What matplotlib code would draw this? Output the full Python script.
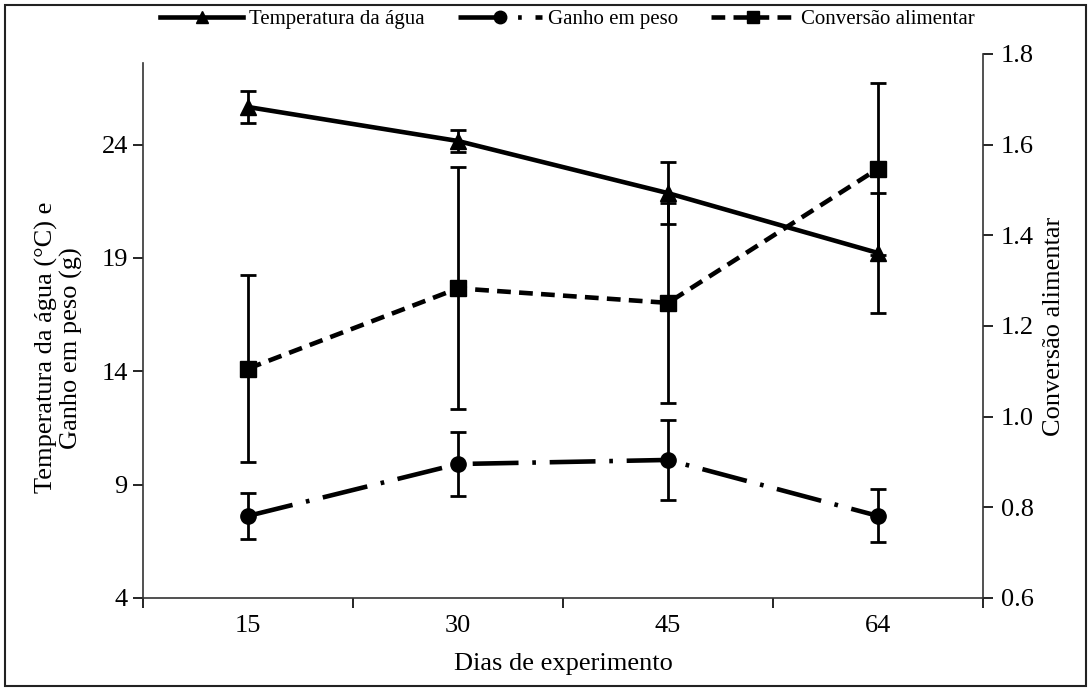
import matplotlib
matplotlib.use('Agg')
from matplotlib import pyplot as plt
from matplotlib.patches import Rectangle
from matplotlib.lines import Line2D
import numpy as np

plt.rcParams['font.family'] = ['Liberation Serif', 'DejaVu Serif']

dias = ['15', '30', '45', '64']
temp = [25.66, 24.16, 21.86, 19.22]
temp_err = [0.7, 0.5, 1.37, 2.65]
ganho = [7.62, 9.91, 10.09, 7.62]
ganho_err = [1.0, 1.4, 1.78, 1.17]
conv = [1.106, 1.283, 1.251, 1.547]
conv_err = [0.207, 0.267, 0.22, 0.19]

x = np.arange(len(dias))

fig = plt.figure(figsize=(10.91, 6.91), dpi=100)
ax = fig.add_axes([0.1311, 0.1346, 0.7699, 0.7873])
ax2 = ax.twinx()

ganho_dash = (10, 3, 0.8, 3)
conv_dash = (3, 1.8)
ekw = dict(ecolor='black', elinewidth=2, capsize=6, capthick=2)
ax.errorbar(x, temp, yerr=temp_err, color='black', lw=3.3, marker='^', ms=12, **ekw)
ax.errorbar(x, ganho, yerr=ganho_err, color='black', lw=3.3, marker='o', ms=11,
            dashes=ganho_dash, **ekw)
ax2.errorbar(x, conv, yerr=conv_err, color='black', lw=3.3, marker='s', ms=11,
             dashes=conv_dash, **ekw)

ax.set_xlim(-0.5, 3.5)
ax.set_ylim(4, 28)
ax2.set_ylim(0.6, 1.8)
ax.set_yticks([4, 9, 14, 19, 24])
ax2.set_yticks([0.6, 0.8, 1.0, 1.2, 1.4, 1.6, 1.8])
ax2.set_yticklabels(['0.6', '0.8', '1.0', '1.2', '1.4', '1.6', '1.8'])
ax.set_xticks(x)
ax.set_xticklabels(dias)
ax.set_xticks(np.arange(-0.5, 4, 1), minor=True)
ax.tick_params(axis='x', which='major', length=0, pad=12, labelsize=19)
ax.tick_params(axis='x', which='minor', length=7, width=1.2, direction='out')
ax.tick_params(axis='y', length=7, width=1.2, labelsize=19, pad=4)
ax2.tick_params(axis='y', length=7, width=1.2, labelsize=19, pad=6)

for a in (ax, ax2):
    a.spines['top'].set_visible(False)
    for s in a.spines.values():
        s.set_linewidth(1.2)
        s.set_color('#333333')
ax.spines['right'].set_visible(False)
ax2.spines['left'].set_visible(False)
ax2.spines['bottom'].set_visible(False)
ax.spines['left'].set_bounds(4, 27.6)

ax.set_xlabel('Dias de experimento', fontsize=19, labelpad=12)
ax.set_ylabel('Temperatura da água (°C) e\nGanho em peso (g)', fontsize=19,
              linespacing=1.15)
ax.yaxis.set_label_coords(-0.071, 0.46)
ax2.set_ylabel('Conversão alimentar', fontsize=19, labelpad=6)

handles = [
    Line2D([], [], color='black', lw=3.3, marker='^', ms=9),
    Line2D([], [], color='black', lw=3.3, marker='o', ms=9, dashes=ganho_dash),
    Line2D([], [], color='black', lw=3.3, marker='s', ms=9, dashes=conv_dash),
]
labels = ['Temperatura da água', 'Ganho em peso', 'Conversão alimentar']
fig.legend(handles, labels, loc='center', ncol=3,
           bbox_to_anchor=(0.52, 0.972), frameon=False, fontsize=15,
           handlelength=4, columnspacing=1.6, handletextpad=0.3)

fig.patches.append(Rectangle((0.005, 0.007), 0.99, 0.986, transform=fig.transFigure,
                             fill=False, edgecolor='#222222', lw=1.5))

fig.savefig('out.png', dpi=100)
